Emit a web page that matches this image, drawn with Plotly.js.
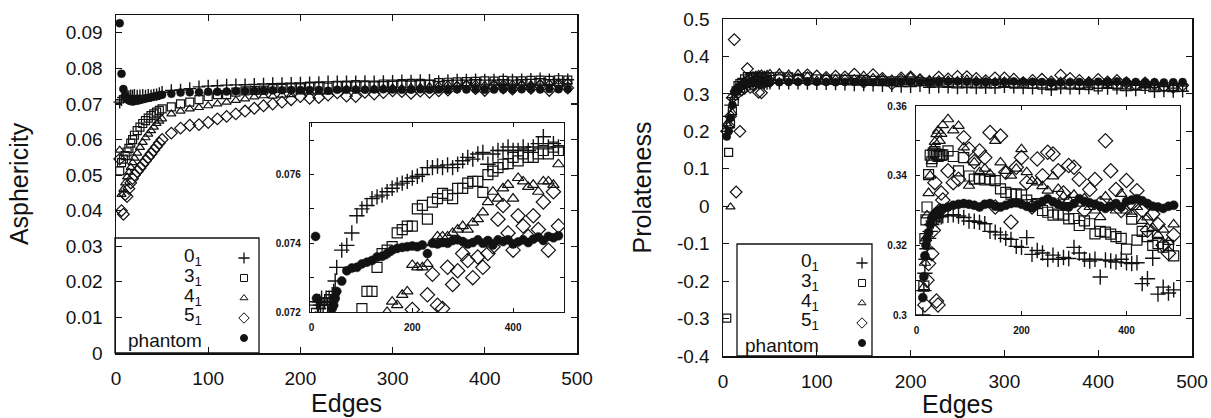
<!DOCTYPE html>
<html><head><meta charset="utf-8">
<script src="https://cdn.plot.ly/plotly-3.0.1.min.js"></script>
<style>html,body{margin:0;padding:0;background:#fff}#chart{width:1211px;height:418px}</style>
</head><body><div id="chart"></div>
<script>
// ---------------- data ----------------
const edges = [4,6,8,10,12,14,16,18,20,23,26,29,32,35,38,41,44,47,50,
  60,70,80,90,100,110,120,130,140,150,160,170,180,190,200,210,220,230,240,250,260,270,280,290,300,
  310,320,330,340,350,360,370,380,390,400,410,420,430,440,450,460,470,480,490];

// Asphericity
const asph_0 = [0.0705,0.0712,0.0718,0.0723,0.0722,0.0721,0.0723,0.0722,0.0724,0.0722,0.0723,0.0724,0.0722,0.0724,0.0723,0.0725,0.0726,0.0729,0.0733,
  0.0738,0.07394,0.0743,0.0748,0.0750,0.0751,0.0753,0.07535,0.0754,0.0755,0.0756,0.0757,0.07575,0.0758,0.0759,0.07595,0.0760,0.0762,0.0762,0.07625,0.0762,0.07628,0.0762,0.0763,0.0764,
  0.0765,0.07645,0.0766,0.07664,0.0763,0.0766,0.0767,0.0767,0.0768,0.0767,0.0767,0.0768,0.0767,0.0768,0.0769,0.0771,0.0768,0.0769,0.0768];
const asph_3 = [0.0512,0.0535,0.0545,0.0555,0.0565,0.0575,0.0590,0.0600,0.0612,0.0625,0.0635,0.0645,0.0653,0.0660,0.0667,0.0672,0.0677,0.0682,0.0686,
  0.0692,0.0700,0.0705,0.0712,0.0721,0.0726,0.0726,0.0733,0.0737,0.0738,0.0739,0.0743,0.0744,0.0745,0.0745,0.0750,0.0751,0.0747,0.0752,0.0753,0.07545,0.0754,0.0753,0.0756,0.0756,
  0.07575,0.0758,0.0758,0.07548,0.0760,0.0761,0.0762,0.0763,0.07632,0.0765,0.0764,0.0766,0.0765,0.0765,0.0766,0.0767,0.0766,0.0768,0.0767];
const asph_4 = [0.0570,0.0446,0.0460,0.0478,0.0495,0.0508,0.0522,0.0535,0.0548,0.0562,0.0578,0.0592,0.0605,0.0615,0.0625,0.0635,0.0645,0.0652,0.0658,
  0.0672,0.0680,0.0686,0.0690,0.0695,0.0700,0.0705,0.0710,0.0714,0.0720,0.0723,0.0722,0.0725,0.0726,0.07337,0.0733,0.0733,0.0734,0.0740,0.0742,0.0742,0.0742,0.0743,0.0744,0.0745,
  0.0744,0.0746,0.0747,0.0749,0.0752,0.0755,0.0753,0.0756,0.0757,0.0753,0.0759,0.0758,0.07564,0.0757,0.0755,0.0758,0.0758,0.0757,0.0763];
const asph_5 = [0.0545,0.0400,0.0390,0.0445,0.0440,0.0462,0.0478,0.0490,0.0500,0.0510,0.0520,0.0530,0.0540,0.0550,0.0560,0.0570,0.0580,0.0590,0.0600,
  0.0618,0.0632,0.0640,0.0642,0.0648,0.0658,0.0665,0.0672,0.0680,0.0688,0.0695,0.0700,0.0705,0.0712,0.07207,0.0716,0.0718,0.0725,0.0731,0.0722,0.0721,0.0733,0.0728,0.0732,0.0737,
  0.0735,0.0730,0.0736,0.0733,0.0737,0.0739,0.0747,0.0751,0.0743,0.0738,0.0748,0.0745,0.0742,0.0748,0.0744,0.0752,0.0738,0.0755,0.0745];
const asph_ph = [0.0927,0.0785,0.0742,0.0724,0.0714,0.0710,0.0708,0.0707,0.0708,0.0709,0.0711,0.0713,0.0715,0.0717,0.0719,0.0721,0.0722,0.0724,0.0726,
  0.0729,0.0732,0.07328,0.0733,0.0734,0.07345,0.0735,0.0736,0.07362,0.0737,0.0738,0.07385,0.07388,0.0739,0.07392,0.0739,0.07395,0.0737,0.0740,0.07398,0.07402,0.0740,0.07408,0.0741,0.07405,
  0.07398,0.07402,0.0741,0.0740,0.07408,0.07395,0.0741,0.07405,0.0741,0.07398,0.07404,0.0741,0.07402,0.07412,0.07418,0.07408,0.0742,0.07416,0.07422];

// Prolateness
const prol_0 = [0.200,0.240,0.270,0.290,0.300,0.307,0.312,0.316,0.319,0.322,0.324,0.326,0.327,0.3277,0.3280,0.3283,0.3286,0.3282,0.3285,
  0.3286,0.3288,0.3284,0.3280,0.3270,0.3269,0.3266,0.3262,0.3240,0.3238,0.3230,0.3220,0.3217,0.3197,0.3194,0.3222,0.3174,0.3185,0.3178,0.3160,0.3172,0.3160,0.3165,0.3162,0.3194,
  0.3178,0.3160,0.3155,0.3160,0.3109,0.3158,0.3155,0.3152,0.3160,0.3150,0.3148,0.3150,0.3090,0.3104,0.3163,0.3060,0.3080,0.3063,0.3072];
const prol_3 = [-0.299,0.144,0.220,0.255,0.280,0.3083,0.3219,0.3273,0.3310,0.3403,0.3459,0.3440,0.3465,0.3469,0.3462,0.3455,0.3460,0.3458,0.3460,
  0.3471,0.3455,0.3414,0.3452,0.3399,0.3390,0.3392,0.3388,0.3390,0.3386,0.3362,0.3352,0.3347,0.3348,0.3345,0.3330,0.3317,0.3320,0.3300,0.3295,0.3287,0.3290,0.3287,0.3276,0.3277,
  0.3257,0.3270,0.3262,0.3233,0.3240,0.3238,0.3232,0.3225,0.3220,0.3189,0.3275,0.3215,0.3240,0.3225,0.3200,0.3205,0.3195,0.3200,0.3170];
const prol_4 = [0.220,0.215,-0.002,0.250,0.290,0.308,0.315,0.322,0.3286,0.3350,0.3400,0.3442,0.3480,0.3497,0.3519,0.3529,0.3500,0.3520,0.3545,
  0.3562,0.3530,0.3543,0.3481,0.3371,0.3438,0.3410,0.3420,0.3405,0.3500,0.3438,0.3414,0.3400,0.3420,0.3476,0.3410,0.3385,0.3381,0.3370,0.3357,0.3398,0.3362,0.3340,0.3330,0.3345,
  0.3320,0.3335,0.3310,0.3300,0.3281,0.3340,0.3320,0.3300,0.3348,0.3300,0.3290,0.3310,0.3270,0.3280,0.3250,0.3230,0.3245,0.3210,0.3260];
const prol_5 = [0.200,0.215,0.240,0.290,0.445,0.038,0.3029,0.200,0.310,0.3148,0.367,0.3176,0.3243,0.3380,0.3040,0.3029,0.3300,0.3350,0.3330,
  0.3414,0.3380,0.3390,0.3509,0.3476,0.3440,0.3471,0.3452,0.3524,0.3310,0.3514,0.3410,0.3267,0.3424,0.3452,0.3380,0.3310,0.3448,0.3400,0.3467,0.3462,0.3414,0.3350,0.3429,0.3424,
  0.3390,0.3300,0.3360,0.3389,0.3320,0.3500,0.3414,0.3360,0.3300,0.3386,0.3320,0.3357,0.3300,0.3243,0.3290,0.3260,0.3200,0.3177,0.3230];
const prol_ph = [0.186,0.200,0.236,0.270,0.305,0.311,0.317,0.320,0.322,0.3237,0.326,0.3278,0.3285,0.3290,0.3295,0.3297,0.3300,0.3303,0.3306,
  0.3310,0.3315,0.3318,0.3320,0.3318,0.3315,0.3310,0.3318,0.3320,0.3312,0.3310,0.3315,0.3320,0.3322,0.3318,0.3312,0.3308,0.3316,0.3326,0.3334,0.3325,0.3318,0.3312,0.3310,0.3320,
  0.3334,0.3326,0.3322,0.3318,0.3312,0.3306,0.3312,0.3320,0.3310,0.3326,0.3330,0.3334,0.3328,0.3320,0.3312,0.3310,0.3306,0.3312,0.3315];

const seriesNames = ['0<sub>1</sub>','3<sub>1</sub>','4<sub>1</sub>','5<sub>1</sub>','phantom'];
const asphSeries = [asph_0, asph_3, asph_4, asph_5, asph_ph];
const prolSeries = [prol_0, prol_3, prol_4, prol_5, prol_ph];

const edgeTicks = [0,100,200,300,400,500];
const edgeTickText = ['0','100','200','300','400','500'];
const insetEdgeTicks = [0,200,400];
const insetEdgeTickText = ['0','200','400'];
const asphTicks = [0,0.01,0.02,0.03,0.04,0.05,0.06,0.07,0.08,0.09];
const asphTickText = ['0','0.01','0.02','0.03','0.04','0.05','0.06','0.07','0.08','0.09'];
const prolTicks = [-0.4,-0.3,-0.2,-0.1,0,0.1,0.2,0.3,0.4,0.5];
const prolTickText = ['-0.4','-0.3','-0.2','-0.1','0','0.1','0.2','0.3','0.4','0.5'];
const asphInsetTicks = [0.072,0.074,0.076];
const asphInsetTickText = ['0.072','0.074','0.076'];
const asphInsetMinor = [0.073,0.075,0.077];
const prolInsetTicks = [0.30,0.32,0.34,0.36];
const prolInsetTickText = ['0.3','0.32','0.34','0.36'];
const prolInsetMinor = [0.31,0.33,0.35];

// ---------------- styling / layout ----------------
const W = 1211, H = 418;
const INK = '#121212';
const FONT = 'Liberation Sans, Arial, Helvetica, sans-serif';
const STY = [
  {symbol:'cross-thin', size:[9,11], lw:1.4},
  {symbol:'square-open', size:[8,10], lw:1.2},
  {symbol:'triangle-up-open', size:[8,10], lw:1.2},
  {symbol:'diamond-open', size:[9,11], lw:1.2},
  {symbol:'circle', size:[8,9], lw:0.5}
];
const LEGSIZE = [8,7,7,8,7];
function px2dx(a,b){return [a/W, b/W];}
function px2dy(top,bottom){return [1-bottom/H, 1-top/H];}

function mk(y, xa, ya, k, inset){
  const s = STY[k];
  return {type:'scatter', mode:'markers', x:edges, y:y, xaxis:xa, yaxis:ya,
    showlegend:false, hoverinfo:'skip', cliponaxis:inset,
    marker:{symbol:s.symbol, size:s.size[inset?1:0], color:INK, line:{color:INK, width:s.lw}}};
}
const traces = [];
asphSeries.forEach((y,k)=>traces.push(mk(y,'x','y',k,false)));
asphSeries.forEach((y,k)=>traces.push(mk(y,'x2','y2',k,true)));
prolSeries.forEach((y,k)=>traces.push(mk(y,'x3','y3',k,false)));
prolSeries.forEach((y,k)=>traces.push(mk(y,'x4','y4',k,true)));

// custom legends (text left, symbol right) on a full-page helper axis in pixels
const LEG = {
  left:{box:[115,238,259,353], textX:204, symX:244, rows:[257,277,297,316,340], symRows:[258,278,298,318,338]},
  right:{box:[737,244,872,356], textX:821, symX:862, rows:[262,282,302,321,345], symRows:[263,283,303,323,343]}
};
STY.forEach((s,k)=>{
  traces.push({type:'scatter', mode:'markers', x:[LEG.left.symX, LEG.right.symX],
    y:[LEG.left.symRows[k], LEG.right.symRows[k]], xaxis:'x5', yaxis:'y5', showlegend:false, hoverinfo:'skip',
    cliponaxis:false,
    marker:{symbol:s.symbol, size:LEGSIZE[k], color:INK, line:{color:INK, width:k===0?1.3:1}}});
});

const annotations = [];
const shapes = [];
['left','right'].forEach(side=>{
  const L = LEG[side];
  seriesNames.forEach((n,k)=>annotations.push({xref:'x5', yref:'y5', x:L.textX, y:L.rows[k],
    xanchor:'right', yanchor:'middle', showarrow:false, text:n, font:{family:FONT, size:19, color:INK}}));
  shapes.push({type:'rect', xref:'x5', yref:'y5', x0:L.box[0], y0:L.box[1], x1:L.box[2], y1:L.box[3],
    line:{color:INK, width:1.3}, fillcolor:'rgba(0,0,0,0)'});
});

function mainAxis(domain, range, tv, tt, title, anchor, standoff){
  return {domain, range, anchor, tickvals:tv, ticktext:tt, ticks:'inside', ticklen:6, tickwidth:1.2, tickcolor:INK,
    mirror:'ticks', showline:true, linecolor:INK, linewidth:1.5, showgrid:false, zeroline:false,
    tickfont:{family:FONT, size:19, color:INK}, ticklabelstandoff:8, automargin:false,
    title:{text:title, font:{family:FONT, size:25, color:INK}, standoff:standoff}};
}
function insetAxis(domain, range, tv, tt, anchor, minorVals){
  const ax = {domain, range, anchor, tickvals:tv, ticktext:tt, ticks:'inside', ticklen:4, tickwidth:1, tickcolor:INK,
    mirror:'ticks', showline:true, linecolor:INK, linewidth:1.2, showgrid:false, zeroline:false,
    tickfont:{family:FONT, size:10, color:INK, weight:'bold'}, ticklabelstandoff:6, automargin:false};
  if (minorVals) ax.minor = {tickvals:minorVals, ticks:'inside', ticklen:4, tickwidth:1, tickcolor:INK, showgrid:false};
  return ax;
}

const layout = {
  width:W, height:H, margin:{l:0,r:0,t:0,b:0}, paper_bgcolor:'#fff', plot_bgcolor:'rgba(0,0,0,0)',
  showlegend:false, font:{family:FONT, color:INK},
  xaxis: mainAxis(px2dx(116,577), [0,500], edgeTicks, edgeTickText, 'Edges', 'y', 4),
  yaxis: mainAxis(px2dy(15,353), [0,0.095], asphTicks, asphTickText, 'Asphericity', 'x', 30),
  xaxis2: insetAxis(px2dx(310,564), [-3,501], insetEdgeTicks, insetEdgeTickText, 'y2'),
  yaxis2: insetAxis(px2dy(123,312), [0.072,0.0775], asphInsetTicks, asphInsetTickText, 'x2', asphInsetMinor),
  xaxis3: mainAxis(px2dx(723,1192), [0,500], edgeTicks, edgeTickText, 'Edges', 'y3', 6),
  yaxis3: mainAxis(px2dy(19,356), [-0.4,0.5], prolTicks, prolTickText, 'Prolateness', 'x3', 18),
  xaxis4: insetAxis(px2dx(916,1180), [-1,502], insetEdgeTicks, insetEdgeTickText, 'y4'),
  yaxis4: insetAxis(px2dy(106,315), [0.3,0.36], prolInsetTicks, prolInsetTickText, 'x4', prolInsetMinor),
  xaxis5: {domain:[0,1], range:[0,W], anchor:'y5', visible:false, fixedrange:true},
  yaxis5: {domain:[0,1], range:[H,0], anchor:'x5', visible:false, fixedrange:true},
  annotations, shapes
};
Plotly.newPlot('chart', traces, layout, {staticPlot:true, displayModeBar:false});
</script></body></html>
